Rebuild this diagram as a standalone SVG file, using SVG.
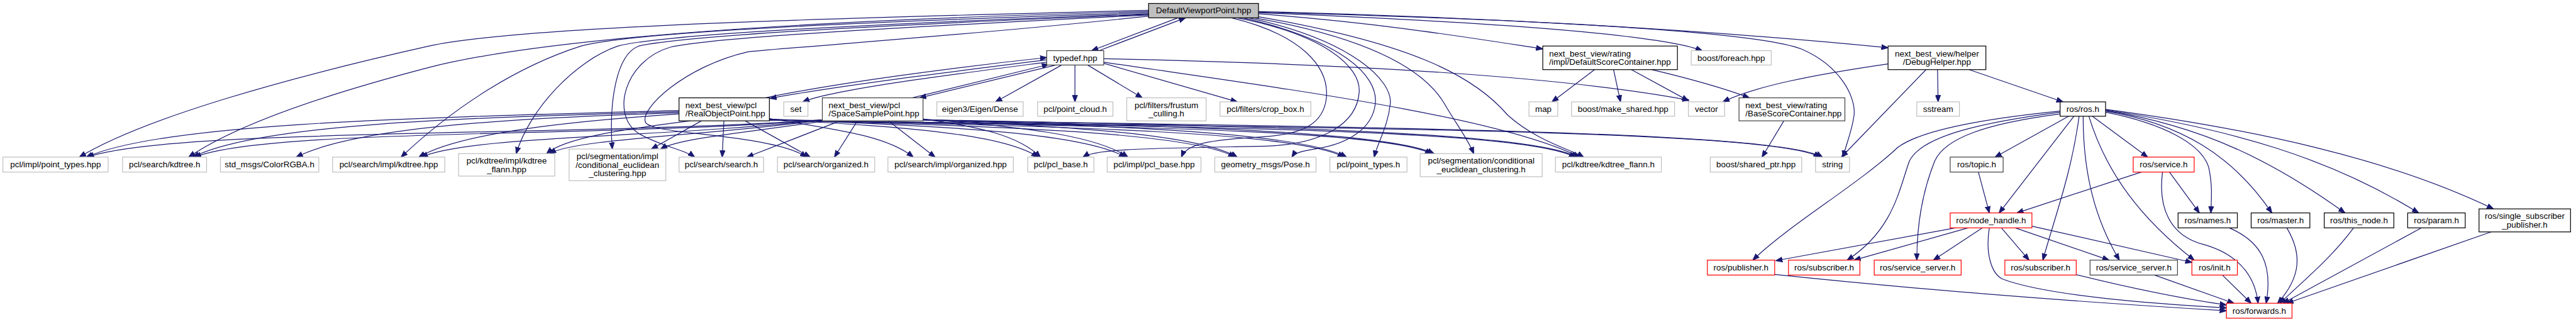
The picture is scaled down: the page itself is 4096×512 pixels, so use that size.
<svg xmlns="http://www.w3.org/2000/svg" width="4096" height="512" viewBox="0 0 4096 512">
<defs>
<style>
text{font-family:"Liberation Sans",Arial,sans-serif;font-size:14.7px;fill:#000}
.c{text-anchor:middle}
rect{fill:#fff;stroke-width:1.33}
.g rect{stroke:#bfbfbf}
.k rect{stroke:#000}
.d rect{stroke:#404040}
.r rect{stroke:#ff0000}
.root rect{fill:#bfbfbf;stroke:#000}
#edges path{fill:none;stroke:#191970;stroke-width:1.33;marker-end:url(#ah)}
</style>
<marker id="ah" viewBox="0 0 12 10" refX="11.5" refY="5" markerWidth="12" markerHeight="10" markerUnits="userSpaceOnUse" orient="auto"><path d="M0,0.5 L12,5 L0,9.5Z" fill="#191970" stroke="#191970" stroke-width="1"/></marker>
</defs>
<rect x="0" y="0" width="4096" height="512" fill="#fff" stroke="none"/>
<g transform="scale(0.915)">
<g id="edges">
<!-- D left curves -->
<path d="M1996,18 C1500,30 900,45 746,80 C500,135 250,205 138,273"/>
<path d="M1996,20 C1400,35 950,65 746,117 C600,155 420,210 328,273"/>
<path d="M1996,22 C1500,38 1100,55 1010,80 C900,115 790,185 697,273"/>
<path d="M1996,24 C1500,42 1150,60 1074,80 C1000,105 920,190 897,267"/>
<path d="M1996,25 C1500,45 1190,62 1110,80 C1070,95 1058,180 1064,259"/>
<path d="M1996,26 C1550,48 1240,65 1165,82 C1085,105 1060,200 1110,232 C1150,255 1190,260 1207,273"/>
<path d="M1996,28 C1700,60 1400,80 1300,90 C1190,115 1110,190 1122,213 C1135,235 1340,232 1402,273"/>
<!-- D <-> typedef -->
<path d="M2047,31 L1897,88"/>
<path d="M1910,88 L2060,31"/>
<!-- D right -->
<path d="M2187,24 C2400,40 2550,65 2681,85"/>
<path d="M2187,22 C2500,35 2870,55 2958,88"/>
<path d="M2187,20 C2600,30 3000,55 3281,83"/>
<path d="M2187,21 C2700,35 3050,55 3130,85 C3200,115 3225,170 3222,200 C3218,230 3208,250 3203,273"/>
<path d="M2140,31 C2260,60 2310,115 2305,170 C2300,215 2265,234 2190,238 C2100,243 2062,250 2053,273"/>
<path d="M2150,31 C2300,60 2365,115 2362,160 C2358,215 2300,250 2200,254 C2000,258 1905,258 1882,273"/>
<path d="M2160,31 C2330,70 2395,130 2390,180 C2385,225 2340,250 2290,258 C2265,262 2250,265 2245,273"/>
<path d="M2170,31 C2350,70 2420,140 2416,180 C2412,220 2395,245 2388,273"/>
<path d="M2180,31 C2400,70 2480,130 2510,180 C2530,215 2550,240 2561,267"/>
<path d="M2187,29 C2450,75 2560,130 2620,200 C2670,245 2730,260 2752,273"/>
<!-- typedef -->
<path d="M1819,104 C1650,125 1450,150 1338,171"/>
<path d="M1330,170 C1450,145 1650,118 1819,100"/>
<path d="M1835,113 L1598,170"/>
<path d="M1585,170 L1822,112"/>
<path d="M1819,108 C1650,130 1450,155 1395,177"/>
<path d="M1845,113 L1730,177"/>
<path d="M1868,113 L1868,177"/>
<path d="M1890,113 L1985,170"/>
<path d="M1918,110 L2150,177"/>
<path d="M1918,102 C2300,110 2700,130 2935,174"/>
<path d="M1918,108 C2200,150 2600,200 2745,273"/>
<!-- DSC / BSC / DH -->
<path d="M2771,121 L2697,177"/>
<path d="M2804,121 L2816,177"/>
<path d="M2835,121 L2934,175"/>
<path d="M2870,121 C2950,140 3000,155 3040,170"/>
<path d="M3100,210 L3062,273"/>
<path d="M3281,111 C3150,130 3050,150 2994,177"/>
<path d="M3347,121 L3200,273"/>
<path d="M3367,121 L3368,177"/>
<path d="M3422,121 L3585,177"/>
<!-- ROP left -->
<path d="M1180,192 C700,205 280,215 150,273"/>
<path d="M1180,194 C800,205 450,215 335,273"/>
<path d="M1180,196 C900,205 620,220 515,273"/>
<path d="M1180,198 C1000,210 800,230 728,273"/>
<path d="M1200,210 C1080,225 980,240 950,267"/>
<path d="M1219,210 L1132,259"/>
<path d="M1258,210 L1255,273"/>
<path d="M1295,210 L1408,273"/>
<!-- SSP left -->
<path d="M1432,208 C1000,238 300,222 152,273"/>
<path d="M1432,208 C1050,240 470,222 338,273"/>
<path d="M1432,208 C1150,240 820,235 732,273"/>
<path d="M1432,208 C1250,235 1000,240 955,267"/>
<path d="M1435,210 C1300,230 1180,240 1148,259"/>
<path d="M1460,210 L1298,273"/>
<path d="M1490,210 L1450,273"/>
<path d="M1544,210 L1625,273"/>
<!-- ROP right -->
<path d="M1337,206 C1450,225 1540,235 1587,273"/>
<path d="M1337,207 C1550,220 1740,230 1804,273"/>
<path d="M1337,207 C1650,220 1880,230 1956,273"/>
<path d="M1337,208 C1750,220 2070,230 2146,273"/>
<path d="M1337,208 C1850,220 2250,228 2336,273"/>
<path d="M1337,208 C1950,220 2400,225 2488,267"/>
<path d="M1337,209 C2100,220 2640,225 2738,273"/>
<path d="M1337,209 C2300,222 3080,225 3163,273"/>
<!-- SSP right -->
<path d="M1604,207 C1700,220 1770,235 1808,273"/>
<path d="M1604,207 C1760,220 1900,232 1960,273"/>
<path d="M1604,208 C1850,220 2080,232 2150,273"/>
<path d="M1604,208 C1950,220 2260,230 2340,273"/>
<path d="M1604,208 C2050,220 2410,228 2492,267"/>
<path d="M1604,208 C2200,220 2650,228 2742,273"/>
<path d="M1604,209 C2400,222 3090,228 3167,273"/>
<!-- ros.h -->
<path d="M3580,193 C3460,205 3340,225 3298,256 C3230,320 3110,390 3046,452"/>
<path d="M3580,195 C3450,212 3340,235 3318,280 C3300,330 3290,400 3210,452"/>
<path d="M3580,198 C3450,215 3380,240 3362,280 C3338,340 3331,400 3331,452"/>
<path d="M3595,202 L3467,273"/>
<path d="M3604,202 L3474,370"/>
<path d="M3613,202 C3600,300 3570,380 3550,452"/>
<path d="M3620,202 C3620,300 3640,380 3683,452"/>
<path d="M3636,202 L3732,273"/>
<path d="M3630,202 C3660,300 3720,380 3813,452"/>
<path d="M3659,195 C3760,215 3825,250 3838,290 C3845,320 3843,345 3842,370"/>
<path d="M3659,193 C3790,215 3880,270 3948,370"/>
<path d="M3659,192 C3830,220 3950,280 4075,370"/>
<path d="M3659,191 C3880,225 4050,275 4203,370"/>
<path d="M3659,190 C3920,225 4150,275 4333,363"/>
<!-- node_handle -->
<path d="M3398,396 L3086,453"/>
<path d="M3420,396 L3222,452"/>
<path d="M3445,396 L3360,452"/>
<path d="M3478,396 L3526,452"/>
<path d="M3502,396 L3665,452"/>
<path d="M3531,393 C3650,420 3740,440 3809,456"/>
<path d="M3457,396 C3450,440 3460,475 3480,485 C3560,515 3750,528 3869,535"/>
<!-- topic / service -->
<path d="M3438,299 L3457,370"/>
<path d="M3721,299 L3505,370"/>
<path d="M3770,299 L3822,370"/>
<path d="M3758,299 C3750,360 3770,410 3830,425 C3900,445 3920,490 3924,527"/>
<!-- to forwards -->
<path d="M3084,477 C3400,510 3700,530 3869,540"/>
<path d="M3607,477 C3700,500 3800,520 3869,530"/>
<path d="M3744,478 L3882,527"/>
<path d="M3862,478 L3912,527"/>
<path d="M3874,396 C3930,420 3950,460 3938,527"/>
<path d="M3974,396 C4000,440 4000,480 3958,527"/>
<path d="M4090,396 C4050,450 4000,490 3962,527"/>
<path d="M4208,396 L3967,527"/>
<path d="M4329,403 L3974,527"/>
</g>

<g id="node-D" class="root"><rect x="1996" y="6" width="191" height="25"/><text class="c" x="2091.5" y="23.5">DefaultViewportPoint.hpp</text></g>
<g id="node-typedef" class="d"><rect x="1819" y="88" width="99" height="25"/><text class="c" x="1868.5" y="105.5">typedef.hpp</text></g>
<g id="node-DSC" class="k"><rect x="2681" y="80" width="234" height="41"/><text x="2692" y="98">next_best_view/rating</text><text x="2692" y="113">/impl/DefaultScoreContainer.hpp</text></g>
<g id="node-foreach" class="g"><rect x="2939" y="88" width="139" height="25"/><text class="c" x="3008.5" y="105.5">boost/foreach.hpp</text></g>
<g id="node-DH" class="k"><rect x="3281" y="80" width="170" height="41"/><text class="c" x="3366" y="98">next_best_view/helper</text><text class="c" x="3366" y="113">/DebugHelper.hpp</text></g>

<g id="node-ROP" class="k"><rect x="1180" y="170" width="157" height="40"/><text x="1191" y="187.5">next_best_view/pcl</text><text x="1191" y="202.5">/RealObjectPoint.hpp</text></g>
<g id="node-set" class="g"><rect x="1362" y="177" width="42" height="25"/><text class="c" x="1383" y="194.5">set</text></g>
<g id="node-SSP" class="d"><rect x="1429" y="170" width="175" height="40"/><text x="1440" y="187.5">next_best_view/pcl</text><text x="1440" y="202.5">/SpaceSamplePoint.hpp</text></g>
<g id="node-eigen" class="g"><rect x="1628" y="177" width="150" height="25"/><text class="c" x="1703" y="194.5">eigen3/Eigen/Dense</text></g>
<g id="node-pointcloud" class="g"><rect x="1803" y="177" width="131" height="25"/><text class="c" x="1868.5" y="194.5">pcl/point_cloud.h</text></g>
<g id="node-frustum" class="g"><rect x="1958" y="170" width="138" height="40"/><text class="c" x="2027" y="187.5">pcl/filters/frustum</text><text class="c" x="2027" y="202.5">_culling.h</text></g>
<g id="node-cropbox" class="g"><rect x="2120" y="177" width="158" height="25"/><text class="c" x="2199" y="194.5">pcl/filters/crop_box.h</text></g>
<g id="node-map" class="g"><rect x="2657" y="177" width="50" height="25"/><text class="c" x="2682" y="194.5">map</text></g>
<g id="node-makeshared" class="g"><rect x="2731" y="177" width="179" height="25"/><text class="c" x="2820.5" y="194.5">boost/make_shared.hpp</text></g>
<g id="node-vector" class="g"><rect x="2934" y="177" width="63" height="25"/><text class="c" x="2965.5" y="194.5">vector</text></g>
<g id="node-BSC" class="d"><rect x="3022" y="170" width="184" height="40"/><text x="3033" y="187.5">next_best_view/rating</text><text x="3033" y="202.5">/BaseScoreContainer.hpp</text></g>
<g id="node-sstream" class="g"><rect x="3331" y="177" width="74" height="25"/><text class="c" x="3368" y="194.5">sstream</text></g>
<g id="node-ros" class="k"><rect x="3580" y="177" width="79" height="25"/><text class="c" x="3619.5" y="194.5">ros/ros.h</text></g>

<g id="node-impl-point-types" class="g"><rect x="5" y="273" width="183" height="26"/><text class="c" x="96.5" y="291">pcl/impl/point_types.hpp</text></g>
<g id="node-search-kdtree" class="g"><rect x="213" y="273" width="146" height="26"/><text class="c" x="286" y="291">pcl/search/kdtree.h</text></g>
<g id="node-colorrgba" class="g"><rect x="383" y="273" width="171" height="26"/><text class="c" x="468.5" y="291">std_msgs/ColorRGBA.h</text></g>
<g id="node-search-impl-kdtree" class="g"><rect x="578" y="273" width="195" height="26"/><text class="c" x="675.5" y="291">pcl/search/impl/kdtree.hpp</text></g>
<g id="node-kdtree-impl-flann" class="g"><rect x="797" y="267" width="167" height="39"/><text class="c" x="880.5" y="284">pcl/kdtree/impl/kdtree</text><text class="c" x="880.5" y="299">_flann.hpp</text></g>
<g id="node-seg-impl" class="g"><rect x="989" y="259" width="168" height="55"/><text class="c" x="1073" y="276.5">pcl/segmentation/impl</text><text class="c" x="1073" y="291.5">/conditional_euclidean</text><text class="c" x="1073" y="306.5">_clustering.hpp</text></g>
<g id="node-search-search" class="g"><rect x="1180" y="273" width="147" height="26"/><text class="c" x="1253.5" y="291">pcl/search/search.h</text></g>
<g id="node-search-organized" class="g"><rect x="1351" y="273" width="169" height="26"/><text class="c" x="1435.5" y="291">pcl/search/organized.h</text></g>
<g id="node-search-impl-organized" class="g"><rect x="1543" y="273" width="218" height="26"/><text class="c" x="1652" y="291">pcl/search/impl/organized.hpp</text></g>
<g id="node-pclbase" class="g"><rect x="1786" y="273" width="115" height="26"/><text class="c" x="1843.5" y="291">pcl/pcl_base.h</text></g>
<g id="node-impl-pclbase" class="g"><rect x="1924" y="273" width="163" height="26"/><text class="c" x="2005.5" y="291">pcl/impl/pcl_base.hpp</text></g>
<g id="node-pose" class="g"><rect x="2111" y="273" width="176" height="26"/><text class="c" x="2199" y="291">geometry_msgs/Pose.h</text></g>
<g id="node-point-types" class="g"><rect x="2311" y="273" width="134" height="26"/><text class="c" x="2378" y="291">pcl/point_types.h</text></g>
<g id="node-seg" class="g"><rect x="2468" y="267" width="212" height="40"/><text class="c" x="2574" y="284">pcl/segmentation/conditional</text><text class="c" x="2574" y="299">_euclidean_clustering.h</text></g>
<g id="node-kdtree-flann" class="g"><rect x="2703" y="273" width="184" height="26"/><text class="c" x="2795" y="291">pcl/kdtree/kdtree_flann.h</text></g>
<g id="node-sharedptr" class="g"><rect x="2972" y="273" width="159" height="26"/><text class="c" x="3051.5" y="291">boost/shared_ptr.hpp</text></g>
<g id="node-string" class="g"><rect x="3155" y="273" width="59" height="26"/><text class="c" x="3184.5" y="291">string</text></g>
<g id="node-topic" class="d"><rect x="3389" y="273" width="92" height="26"/><text class="c" x="3435" y="291">ros/topic.h</text></g>
<g id="node-service" class="r"><rect x="3707" y="273" width="106" height="26"/><text class="c" x="3760" y="291">ros/service.h</text></g>

<g id="node-nodehandle" class="r"><rect x="3389" y="370" width="142" height="26"/><text class="c" x="3460" y="388">ros/node_handle.h</text></g>
<g id="node-names" class="k"><rect x="3785" y="370" width="103" height="26"/><text class="c" x="3836.5" y="388">ros/names.h</text></g>
<g id="node-master" class="k"><rect x="3912" y="370" width="102" height="26"/><text class="c" x="3963" y="388">ros/master.h</text></g>
<g id="node-thisnode" class="k"><rect x="4039" y="370" width="121" height="26"/><text class="c" x="4099.5" y="388">ros/this_node.h</text></g>
<g id="node-param" class="k"><rect x="4184" y="370" width="100" height="26"/><text class="c" x="4234" y="388">ros/param.h</text></g>
<g id="node-singlesub" class="k"><rect x="4308" y="363" width="159" height="40"/><text class="c" x="4387.5" y="380.5">ros/single_subscriber</text><text class="c" x="4387.5" y="395.5">_publisher.h</text></g>

<g id="node-publisher" class="r"><rect x="2967" y="452" width="117" height="26"/><text class="c" x="3025.5" y="470">ros/publisher.h</text></g>
<g id="node-subscriber1" class="r"><rect x="3108" y="452" width="124" height="26"/><text class="c" x="3170" y="470">ros/subscriber.h</text></g>
<g id="node-serviceserver1" class="r"><rect x="3257" y="452" width="151" height="26"/><text class="c" x="3332.5" y="470">ros/service_server.h</text></g>
<g id="node-subscriber2" class="r"><rect x="3484" y="452" width="124" height="26"/><text class="c" x="3546" y="470">ros/subscriber.h</text></g>
<g id="node-serviceserver2" class="d"><rect x="3632" y="452" width="152" height="26"/><text class="c" x="3708" y="470">ros/service_server.h</text></g>
<g id="node-init" class="r"><rect x="3809" y="452" width="79" height="26"/><text class="c" x="3848.5" y="470">ros/init.h</text></g>
<g id="node-forwards" class="r"><rect x="3869" y="527" width="114" height="26"/><text class="c" x="3926" y="545">ros/forwards.h</text></g>
</g>
</svg>
